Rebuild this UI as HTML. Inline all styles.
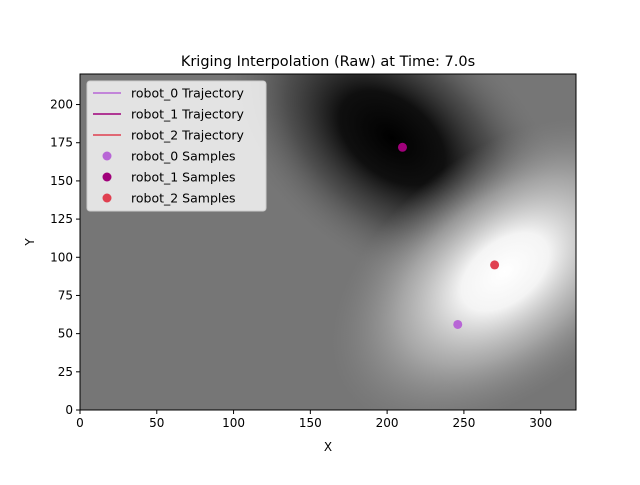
<!DOCTYPE html>
<html><head><meta charset="utf-8"><style>
body{margin:0;background:#fff;font-family:"Liberation Sans","DejaVu Sans",sans-serif;}
svg text{font-family:"DejaVu Sans","Liberation Sans",sans-serif;}
</style></head><body>
<svg id="chart" width="640" height="480" viewBox="0 0 640 480" xmlns="http://www.w3.org/2000/svg">
<defs>
<clipPath id="clip"><rect x="80" y="74" width="496" height="336"/></clipPath>
<radialGradient id="dark">
<stop offset="0" stop-color="#000" stop-opacity="1"/>
<stop offset="0.3" stop-color="#0a0a0a" stop-opacity="0.95"/>
<stop offset="0.6" stop-color="#333" stop-opacity="0.6"/>
<stop offset="1" stop-color="#777" stop-opacity="0"/>
</radialGradient>
<radialGradient id="bright">
<stop offset="0" stop-color="#fff" stop-opacity="1"/>
<stop offset="0.25" stop-color="#f4f4f4" stop-opacity="1"/>
<stop offset="0.6" stop-color="#bbb" stop-opacity="0.7"/>
<stop offset="1" stop-color="#888" stop-opacity="0"/>
</radialGradient>
</defs>
<text x="328" y="66" font-size="14.5" text-anchor="middle">Kriging Interpolation (Raw) at Time: 7.0s</text>
<g clip-path="url(#clip)">
<rect x="80" y="74" width="496" height="336" fill="#767676"/>
<ellipse cx="392" cy="138" rx="200" ry="125" transform="rotate(38 392 138)" fill="url(#dark)"/>
<ellipse cx="505" cy="272" rx="200" ry="120" transform="rotate(-38 505 272)" fill="url(#bright)"/>
</g>
<g id="axes"></g>
<g id="marks" clip-path="url(#clip)"></g>
<rect x="80" y="74" width="496" height="336" fill="none" stroke="#000" stroke-width="1"/>
<text x="328" y="451" font-size="12" text-anchor="middle">X</text>
<text x="34" y="242" font-size="12" text-anchor="middle" transform="rotate(-90 34 242)">Y</text>
<g id="legend">
<rect x="87" y="81" width="179" height="130" rx="3" fill="#fff" fill-opacity="0.8" stroke="#ccc"/>
</g>
</svg>
<script>
const xTicks=[0,50,100,150,200,250,300];
const yTicks=[0,25,50,75,100,125,150,175,200];
const seriesNames=["robot_0","robot_1","robot_2"];
const seriesColors=["#b866d6","#a0007a","#e04050"];
const sampleX=[246,210,270];
const sampleY=[56,172,95];
const xMin=0,xMax=323,yMin=0,yMax=220;
const L=80,R=576,T=74,B=410;
function sx(v){return L+(v-xMin)/(xMax-xMin)*(R-L);}
function sy(v){return B-(v-yMin)/(yMax-yMin)*(B-T);}
const NS="http://www.w3.org/2000/svg";
function mk(tag,attrs,parent){const e=document.createElementNS(NS,tag);for(const k in attrs)e.setAttribute(k,attrs[k]);parent.appendChild(e);return e;}
const axes=document.getElementById('axes');
xTicks.forEach(v=>{
 const t=mk('line',{x1:sx(v),x2:sx(v),y1:B,y2:B+4,stroke:'#000'},axes);
 
 
 const l=mk('text',{x:sx(v),y:B+17,'font-size':12,'text-anchor':'middle'},axes);l.textContent=v;
 
 
});
yTicks.forEach(v=>{
 const t=mk('line',{x1:L-4,x2:L,y1:sy(v),y2:sy(v),stroke:'#000'},axes);
 
 
 const l=mk('text',{x:L-7,y:sy(v)+4,'font-size':12,'text-anchor':'end'},axes);l.textContent=v;
 
 
});
const marks=document.getElementById('marks');
sampleX.forEach((x,i)=>{
 const c=mk('circle',{cx:sx(x),cy:sy(sampleY[i]),r:4.5,fill:seriesColors[i]},marks);
 
 
});
const lg=document.getElementById('legend');
seriesNames.forEach((n,i)=>{
 const y=93+i*21;
 const ln=mk('line',{x1:93,x2:121,y1:y,y2:y,stroke:seriesColors[i],'stroke-width':1.5},lg);
 
 
 const t=mk('text',{x:131,y:y+4.5,'font-size':12.5},lg);t.textContent=n+' Trajectory';
 
 
});
seriesNames.forEach((n,i)=>{
 const y=156+i*21;
 const c=mk('circle',{cx:107,cy:y,r:4.5,fill:seriesColors[i]},lg);
 
 
 const t=mk('text',{x:131,y:y+4.5,'font-size':12.5},lg);t.textContent=n+' Samples';
 
 
});
</script>
</body></html>
